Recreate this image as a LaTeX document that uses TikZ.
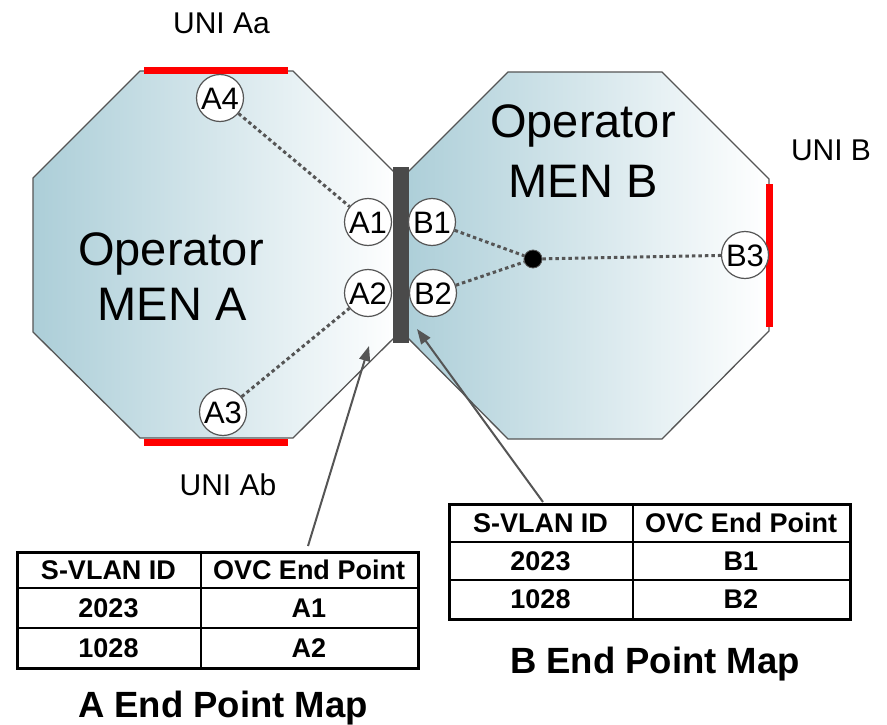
\documentclass[tikz,border=0pt]{standalone}
\usepackage{fontspec}
\setmainfont{Liberation Sans}
\usetikzlibrary{arrows.meta}
\definecolor{menblue}{RGB}{172,206,216}
\definecolor{rim}{RGB}{85,85,85}
\definecolor{bargray}{RGB}{74,74,74}
\definecolor{unired}{RGB}{255,0,0}
\begin{document}
\begin{tikzpicture}[x=1pt,y=-1pt,
  network/.style={draw=rim, line width=1.3pt, left color=menblue, right color=white},
  port/.style={circle, draw=rim, line width=1.2pt, fill=white, minimum size=47pt,
    inner sep=0pt, font=\fontsize{31}{32}\selectfont, text height=22.2pt, text depth=0pt},
  hub/.style={circle, fill=black, draw=rim, line width=0.8pt, minimum size=18pt, inner sep=0pt},
  link/.style={draw=rim, line width=3pt, dash pattern=on 3.5pt off 3pt},
  uni/.style={draw=unired, line width=7pt},
  unilabel/.style={font=\fontsize{30}{30}\selectfont, anchor=base, inner sep=0pt},
  netname/.style={font=\fontsize{47}{47}\selectfont, anchor=base, inner sep=0pt},
  frame/.style={draw=black, line width=2.5pt, inner sep=0pt, anchor=north west},
  rule/.style={draw=black, line width=2.5pt},
  cell/.style={font=\bfseries\fontsize{27}{28}\selectfont, text height=19.4pt, text depth=0pt, inner sep=0pt},
  maptitle/.style={font=\bfseries\fontsize{36.5}{37}\selectfont, anchor=base, inner sep=0pt},
  pointer/.style={draw=rim, line width=2pt, -{Triangle[length=15pt,width=11pt]}}
]
\useasboundingbox (0,0) rectangle (887,725);

% operator networks
\shadedraw[network] (140,71) -- (293,71) -- (400,178) -- (400,332) -- (293,438)
  -- (140,438) -- (33,332) -- (33,178) -- cycle;
\shadedraw[network] (508,72) -- (662,72) -- (769,179) -- (769,331) -- (662,439)
  -- (508,439) -- (401,331) -- (401,179) -- cycle;

% ENNI link between the networks
\fill[bargray] (393,167) rectangle (409,343);

% UNI segments
\draw[uni] (144,71) -- (288,71);
\draw[uni] (144,442) -- (288,442);
\draw[uni] (769,184) -- (769,327);

% network names
\node[netname] (menAtop) at (171,265) {Operator};
\node[netname] (menAbot) at (172,320) {MEN A};
\node[netname] (menBtop) at (583,138) {Operator};
\node[netname] (menBbot) at (583,197) {MEN B};

% UNI names
\node[unilabel] (uniAa) at (221.5,34) {UNI Aa};
\node[unilabel] (uniAb) at (228,495) {UNI Ab};
\node[unilabel] (uniB) at (831,160) {UNI B};

% end points
\node[port] (A1) at (368,222) {A1};
\node[port] (A2) at (368,293) {A2};
\node[port] (A3) at (223,412) {A3};
\node[port] (A4) at (220,98) {A4};
\node[port] (B1) at (432,222) {B1};
\node[port] (B2) at (433,293) {B2};
\node[port] (B3) at (745,255) {B3};
\node[hub] (hub) at (533,259) {};

% OVC paths
\draw[link] (A4) -- (A1);
\draw[link] (A3) -- (A2);
\draw[link] (B1) -- (hub);
\draw[link] (B2) -- (hub);
\draw[link] (hub) -- (B3);

% A end point map
\node[frame, minimum width=401pt, minimum height=116pt] (tabA) at (16,551) {};
\draw[rule] (201,551) -- (201,667);
\draw[rule] (16,588) -- (417,588);
\draw[rule] (16,628) -- (417,628);
\node[cell] (a11) at (108.5,569.5) {S-VLAN ID};
\node[cell] (a12) at (309,569.5) {OVC End Point};
\node[cell] (a21) at (108.5,608) {2023};
\node[cell] (a22) at (309,608) {A1};
\node[cell] (a31) at (108.5,647.5) {1028};
\node[cell] (a32) at (309,647.5) {A2};
\node[maptitle] (titleA) at (223,717) {A End Point Map};

% B end point map
\node[frame, minimum width=401pt, minimum height=115pt] (tabB) at (448,503) {};
\draw[rule] (633,503) -- (633,618);
\draw[rule] (448,542) -- (849,542);
\draw[rule] (448,580) -- (849,580);
\node[cell] (b11) at (540.5,522.5) {S-VLAN ID};
\node[cell] (b12) at (741,522.5) {OVC End Point};
\node[cell] (b21) at (540.5,561) {2023};
\node[cell] (b22) at (741,561) {B1};
\node[cell] (b31) at (540.5,599) {1028};
\node[cell] (b32) at (741,599) {B2};
\node[maptitle] (titleB) at (655,673) {B End Point Map};

% pointers from the maps to the ENNI
\coordinate (tailA) at (308,546);
\coordinate (tipA) at (369,346);
\coordinate (tailB) at (543,502);
\coordinate (tipB) at (417,329);
\draw[pointer] (tailA) -- (tipA);
\draw[pointer] (tailB) -- (tipB);
\end{tikzpicture}
\end{document}
